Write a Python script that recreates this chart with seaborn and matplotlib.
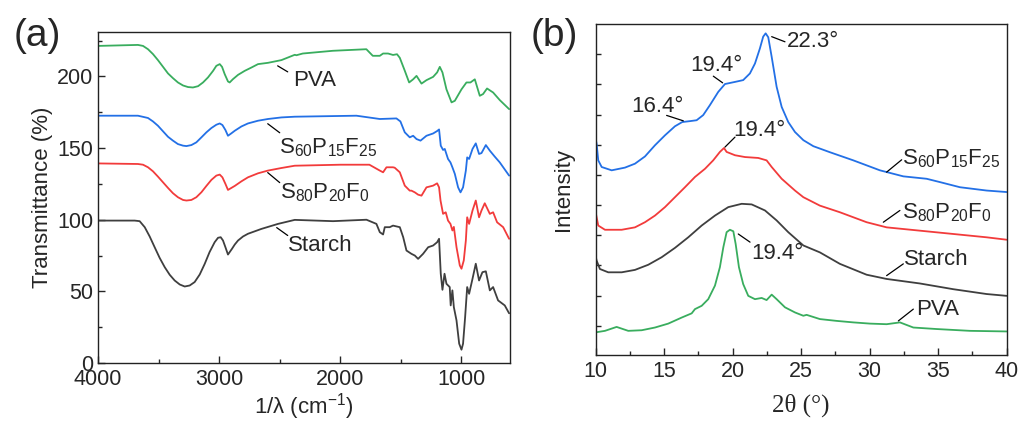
import numpy as np
import pandas as pd
import matplotlib
matplotlib.use("Agg")
import matplotlib.pyplot as plt
from matplotlib.ticker import MultipleLocator
import seaborn as sns

# ---------------- FTIR data (panel a) ----------------
pva_w = [4000, 3670, 3628, 3587, 3546, 3505, 3463, 3422, 3381, 3340, 3298, 3257, 3216, 3174, 3133, 3092,
         3050, 3023, 2995, 2976, 2954, 2927, 2913, 2886, 2844, 2789, 2734, 2679, 2597, 2486, 2376,
         2362, 2310, 2062, 1785, 1732, 1674, 1647, 1606, 1565, 1532, 1509, 1468, 1432, 1399, 1371,
         1330, 1289, 1234, 1201, 1179, 1157, 1124, 1082, 1055, 1000, 959, 926, 890, 849, 822, 789, 739, 684, 607]
pva_t = [221.3, 222, 221.3, 219, 215.6, 211.4, 206.7, 202.1, 198.8, 195.8, 193.7, 192.6, 192.3, 193.2, 195.8, 199.3,
         203.9, 207.4, 208.6, 206.7, 201.6, 196.5, 195.8, 198.1, 201.1, 203.9, 206.2, 208.6, 209.5, 211.4, 215.1,
         214.8, 216, 217.9, 219, 214.4, 214.4, 216, 216, 215, 215.5, 213, 204, 195.8, 198, 200.4,
         195, 197.4, 199.7, 202.8, 206.7, 202.8, 191, 181.9, 183, 191, 195.8, 195.8, 198, 186.5, 187.7, 191.6, 188.8, 183.5, 177.2]

s60_w = [4000, 3670, 3628, 3587, 3546, 3505, 3463, 3422, 3381, 3340, 3298, 3270, 3229, 3188, 3146, 3105,
         3064, 3023, 2995, 2973, 2948, 2927, 2899, 2871, 2816, 2762, 2679, 2597, 2486, 2376, 1867,
         1674, 1537, 1504, 1468, 1427, 1399, 1371, 1338, 1289, 1234, 1201, 1185, 1171, 1152, 1138, 1111,
         1091, 1075, 1055, 1028, 1008, 987, 964, 953, 937, 909, 882, 855, 835, 799, 766, 725, 684, 607]
s60_t = [172.6, 172.6, 171.8, 171, 168.6, 165.6, 161.7, 157.9, 155.2, 152.8, 151.7, 151.4, 152.1, 154, 157.5, 161,
         164, 166.3, 167.2, 166.1, 162.6, 158.6, 160.3, 162.1, 165.1, 167.2, 169.1, 170.3, 171.4, 171.9, 172.6,
         170.3, 170.7, 168.6, 161, 157.5, 158.6, 156.3, 155.2, 158.6, 160.2, 161.9, 163, 151.7, 148.7, 149.4, 142.4,
         140, 136.6, 132, 122.6, 119.1, 122.6, 134.3, 143.5, 142.4, 149.4, 153.3, 145.9, 146.5, 152.1, 148.2, 144, 140, 130.8]

s80_w = [4000, 3670, 3628, 3587, 3546, 3505, 3463, 3422, 3381, 3340, 3298, 3270, 3229, 3188, 3146, 3105,
         3064, 3023, 2995, 2973, 2948, 2927, 2899, 2871, 2816, 2762, 2679, 2597, 2486, 2376, 2000,
         1760, 1674, 1647, 1619, 1565, 1551, 1509, 1468, 1427, 1413, 1385, 1358, 1330, 1289, 1234, 1201,
         1185, 1173, 1152, 1130, 1111, 1091, 1075, 1063, 1041, 1014, 1000, 981, 964, 953, 937, 909, 882,
         855, 835, 808, 766, 739, 706, 656, 607]
s80_t = [139.3, 138.9, 138.4, 136.6, 133.8, 130.1, 126.1, 122.2, 118.5, 115.7, 113.8, 113.4, 113.8, 115.7, 119.2, 123.6,
         127.8, 130.8, 131.5, 129.6, 125, 120.8, 122.2, 123.6, 126.8, 129.6, 132.4, 134.3, 136.1, 137.7, 138.4,
         138.4, 134.3, 133.1, 136.6, 136.6, 136.3, 133.1, 123.8, 120.3, 120.3, 119.1, 117.5, 116.8, 122.6, 123.8, 125.4,
         122.6, 113.4, 104.1, 105.2, 99.4, 97.1, 92.5, 95, 80.8, 68.1, 65.8, 71.6, 85.5, 101.7, 97.1, 106.4, 113.4,
         101.7, 106.4, 111.5, 104.1, 105.2, 98.2, 94.8, 86.7]

starch_w = [4000, 3697, 3656, 3614, 3573, 3532, 3491, 3449, 3408, 3367, 3325, 3284, 3243, 3202, 3160, 3119,
            3079, 3037, 3009, 2987, 2968, 2948, 2927, 2913, 2894, 2871, 2844, 2803, 2762,
            2651, 2514, 2376, 2060, 1784, 1702, 1674, 1647, 1633, 1592, 1565, 1509, 1481, 1454, 1413, 1385,
            1358, 1317, 1275, 1234, 1201, 1185, 1171, 1157, 1140, 1124, 1097, 1089, 1075, 1063, 1041, 1019,
            1000, 987, 970, 953, 937, 909, 882, 855, 827, 799, 766, 739, 698, 643, 607]
starch_t = [99.4, 99.4, 99.0, 94.8, 88.3, 80.8, 73.4, 66.9, 61.6, 57.6, 54.8, 53.4, 54.1, 56.5, 61.8, 69.2,
            77.4, 84.3, 87.4, 87.8, 85.5, 80.8, 75.7, 77.4, 79.7, 82.7, 85.5, 88.3, 90.2,
            93.6, 97.1, 99.9, 99, 100, 97.1, 91.3, 89.7, 94.8, 94.8, 95.9, 94.8, 87.8, 78.5, 76.2, 75,
            72.7, 76.2, 80.8, 82, 84.3, 86.7, 62.3, 51.1, 62.3, 55.3, 53, 40.2, 50.7, 39, 29.7, 13.5,
            9.3, 13.5, 32, 53, 48.3, 58.8, 69.3, 57.6, 63.4, 64, 50.7, 53, 43.7, 40.2, 34.7]

# ---------------- XRD data (panel b) ----------------
s60_th = [10, 10.07, 10.19, 10.44, 11.17, 12.14, 12.87, 13.6, 14.33, 15.06, 15.79, 16.32, 16.88, 17.37, 17.85,
          18.34, 18.95, 19.44, 20.17, 20.77, 21.26, 21.63, 21.99, 22.23, 22.41, 22.6, 22.85, 23.21, 23.58,
          24.06, 24.55, 25.16, 25.89, 27.1, 28.81, 30.75, 32.46, 34.16, 35.13, 36.59, 38.54, 40]
s60_i = [7.2, 7.03, 6.48, 6.26, 6.15, 6.24, 6.37, 6.61, 6.98, 7.31, 7.61, 7.75, 7.78, 7.81, 7.98,
         8.31, 8.75, 9.01, 9.08, 9.14, 9.36, 9.69, 10.19, 10.58, 10.69, 10.56, 9.91, 8.92, 8.25,
         7.75, 7.42, 7.15, 6.95, 6.75, 6.48, 6.15, 5.95, 5.87, 5.76, 5.59, 5.48, 5.43]

s80_th = [10, 10.19, 10.68, 11.9, 12.87, 13.6, 14.33, 15.06, 15.79, 16.52, 17.25, 17.98, 18.58, 19.07, 19.37,
          19.56, 20.17, 20.9, 21.87, 22.48, 22.85, 23.58, 24.55, 25.16, 26.37, 27.83, 29.78, 31.24, 33.67,
          36.11, 38.54, 40]
s80_i = [4.76, 4.32, 4.18, 4.18, 4.26, 4.43, 4.65, 4.93, 5.26, 5.59, 5.93, 6.2, 6.48, 6.76, 6.89,
         6.76, 6.65, 6.59, 6.56, 6.48, 6.26, 5.87, 5.48, 5.26, 4.98, 4.76, 4.43, 4.26, 4.15,
         4.04, 3.93, 3.85]

st_th = [10, 10.07, 10.31, 10.92, 11.9, 12.87, 13.84, 14.82, 15.79, 16.76, 17.74, 18.71, 19.68, 20.66, 21.39,
         22.36, 23.21, 24.06, 25.16, 26.37, 27.83, 29.78, 31.24, 33.67, 36.11, 38.54, 40]
st_i = [3.3, 3.16, 2.88, 2.77, 2.77, 2.85, 3.02, 3.27, 3.58, 3.93, 4.32, 4.65, 4.93, 5.04, 5.02,
        4.82, 4.49, 4.1, 3.66, 3.43, 3.05, 2.69, 2.55, 2.4, 2.21, 2.05, 1.99]

pva_th = [10, 10.68, 11.53, 12.38, 13.36, 14.33, 15.3, 16.28, 17.01, 17.25, 17.74, 18.22, 18.71, 19.07, 19.32,
          19.56, 19.8, 20.05, 20.22, 20.46, 20.77, 21.14, 21.63, 22.12, 22.48, 22.85, 23.21, 23.82, 24.55,
          25.16, 25.4, 26.37, 27.59, 28.81, 30.02, 31.24, 32.21, 33.19, 34.89, 37.32, 40]
pva_i = [0.78, 0.83, 0.96, 0.83, 0.85, 0.94, 1.07, 1.27, 1.41, 1.55, 1.66, 1.88, 2.33, 2.94, 3.6,
         4.1, 4.18, 4.13, 3.71, 2.94, 2.38, 1.99, 1.88, 1.92, 1.85, 2.03, 1.88, 1.61, 1.44,
         1.33, 1.36, 1.22, 1.16, 1.11, 1.07, 1.05, 1.11, 0.94, 0.89, 0.83, 0.81]

names = ["Starch", "S80P20F0", "S60P15F25", "PVA"]
colors = {"Starch": "#3f3f3f", "S80P20F0": "#f23b3b", "S60P15F25": "#2370e6", "PVA": "#39ad5e"}

ftir = pd.concat([
    pd.DataFrame({"w": starch_w, "t": starch_t, "s": "Starch"}),
    pd.DataFrame({"w": s80_w, "t": s80_t, "s": "S80P20F0"}),
    pd.DataFrame({"w": s60_w, "t": s60_t, "s": "S60P15F25"}),
    pd.DataFrame({"w": pva_w, "t": pva_t, "s": "PVA"}),
])
xrd = pd.concat([
    pd.DataFrame({"th": st_th, "i": st_i, "s": "Starch"}),
    pd.DataFrame({"th": s80_th, "i": s80_i, "s": "S80P20F0"}),
    pd.DataFrame({"th": s60_th, "i": s60_i, "s": "S60P15F25"}),
    pd.DataFrame({"th": pva_th, "i": pva_i, "s": "PVA"}),
])

sns.set_style("ticks")
plt.rcParams["font.family"] = ["Liberation Sans", "DejaVu Sans"]
plt.rcParams["mathtext.default"] = "regular"
plt.rcParams["axes.linewidth"] = 1.0
plt.rcParams["axes.edgecolor"] = "#222222"

fig = plt.figure(figsize=(10.3, 4.23), dpi=100)
axa = fig.add_axes([0.0951, 0.1418, 0.400, 0.7825])
axb = fig.add_axes([0.5783, 0.1608, 0.399, 0.7825])

sns.lineplot(data=ftir, x="w", y="t", hue="s", palette=colors, hue_order=names,
             estimator=None, sort=False, legend=False, lw=1.3, ax=axa)
sns.lineplot(data=xrd, x="th", y="i", hue="s", palette=colors, hue_order=names,
             estimator=None, sort=False, legend=False, lw=1.3, ax=axb)

fs_tick = 15.5
fs_lab = 16
fs_ann = 16

# panel a axes
axa.set_xlim(4000, 600)
axa.set_ylim(0, 231)
axa.xaxis.set_major_locator(MultipleLocator(1000))
axa.xaxis.set_minor_locator(MultipleLocator(500))
axa.yaxis.set_major_locator(MultipleLocator(50))
axa.yaxis.set_minor_locator(MultipleLocator(25))
axa.set_xlabel("1/λ (cm$^{-1}$)", fontsize=fs_lab, labelpad=1)
axa.set_ylabel("Transmittance (%)", fontsize=fs_lab, labelpad=3)

# panel b axes
axb.set_xlim(10, 40)
axb.set_ylim(0.03, 11.0)
axb.xaxis.set_major_locator(MultipleLocator(5))
axb.xaxis.set_minor_locator(MultipleLocator(2.5))
axb.set_yticks(np.arange(1, 11))
axb.set_yticklabels([])
axb.set_xlabel("2θ (°)", fontsize=18, labelpad=9, family=["Liberation Serif", "DejaVu Serif"])
axb.set_ylabel("Intensity", fontsize=fs_lab, labelpad=12)

for ax in (axa, axb):
    for sp in ax.spines.values():
        sp.set_visible(True)
    ax.tick_params(which="both", direction="in", labelsize=fs_tick, top=False, right=False)
    ax.tick_params(which="major", length=5, width=1)
    ax.tick_params(which="minor", length=3, width=1)
    ax.tick_params(axis="x", which="both", pad=4)
axb.tick_params(axis="y", which="major", length=3.5)

# panel a annotations
ann_a = [
    ("PVA", 2393, 197, (2517, 207.4), (2434, 203.2)),
    ("S$_{60}$P$_{15}$F$_{25}$", 2506, 150.3, (2599, 167), (2500, 160.7)),
    ("S$_{80}$P$_{20}$F$_{0}$", 2500, 119, (2599, 132.9), (2500, 125.9)),
    ("Starch", 2434, 82, (2525, 94.5), (2434, 89)),
]
for txt, x, y, p0, p1 in ann_a:
    axa.text(x, y, txt, fontsize=fs_ann, ha="left", va="center")
    axa.plot([p0[0], p1[0]], [p0[1], p1[1]], color="black", lw=0.9)

# panel b annotations
ann_b = [
    ("22.3°", 23.94, 10.41, (22.85, 10.58), (23.82, 10.41)),
    ("19.4°", 16.89, 9.63, (18.59, 9.27), (19.27, 9.05)),
    ("16.4°", 12.63, 8.25, (15.18, 7.97), (16.4, 7.79)),
    ("19.4°", 20.05, 7.47, (19.44, 6.92), (20.17, 7.25)),
    ("19.4°", 21.39, 3.38, (20.41, 4.04), (21.27, 3.77)),
    ("S$_{60}$P$_{15}$F$_{25}$", 32.34, 6.53, (31.24, 6.09), (32.34, 6.5)),
    ("S$_{80}$P$_{20}$F$_{0}$", 32.34, 4.76, (31.0, 4.43), (32.21, 4.82)),
    ("Starch", 32.5, 3.21, (31.24, 2.66), (32.46, 3.05)),
    ("PVA", 33.43, 1.55, (32.1, 1.16), (33.19, 1.55)),
]
for txt, x, y, p0, p1 in ann_b:
    axb.text(x, y, txt, fontsize=fs_ann, ha="left", va="center")
    axb.plot([p0[0], p1[0]], [p0[1], p1[1]], color="black", lw=0.9)

fig.text(0.013, 0.915, "(a)", fontsize=28, ha="left", va="center")
fig.text(0.515, 0.915, "(b)", fontsize=28, ha="left", va="center")

fig.savefig("out.png", dpi=100)
